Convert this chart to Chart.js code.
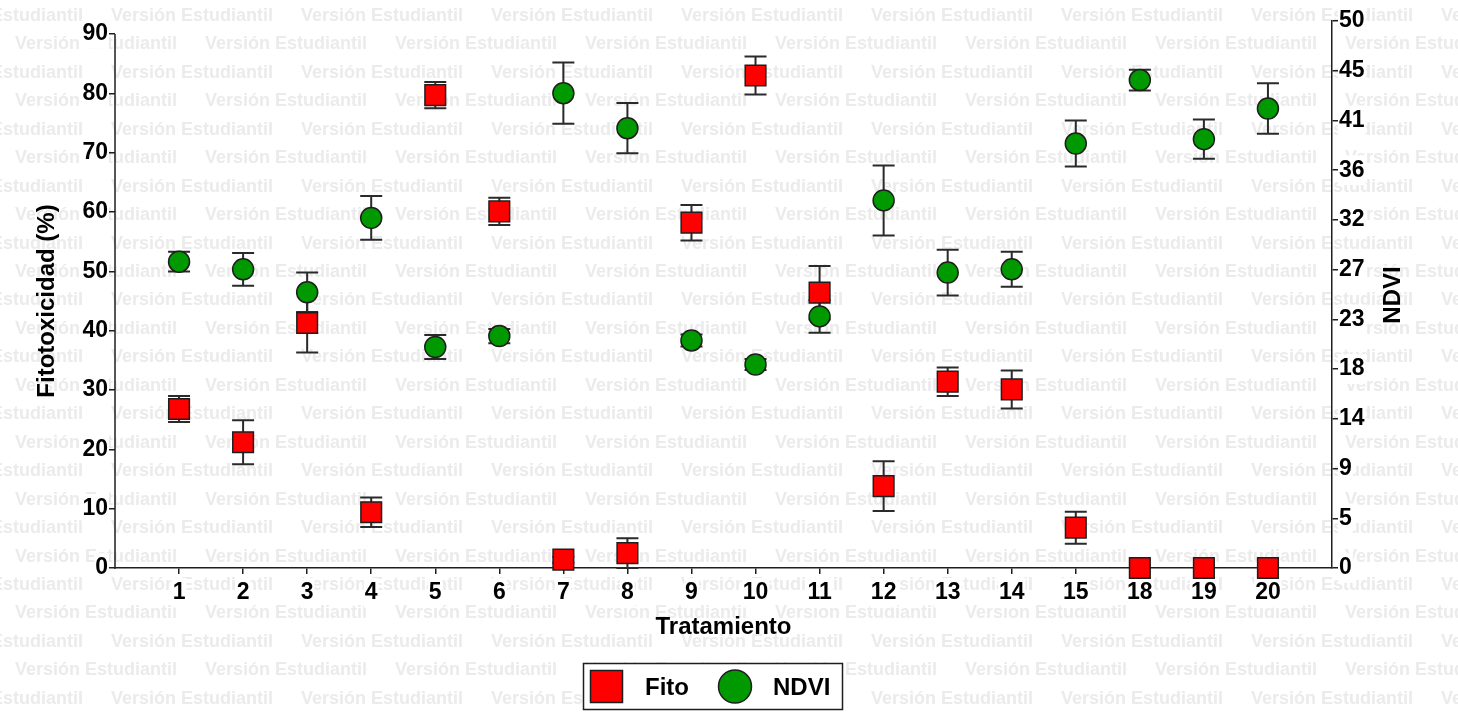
<!DOCTYPE html>
<html>
<head>
<meta charset="utf-8">
<script src="https://cdn.jsdelivr.net/npm/chart.js@4.4.1/dist/chart.umd.min.js"></script>
<style>
  html, body { margin: 0; padding: 0; background: #fff; }
  #wrap { width: 1458px; height: 712px; }
</style>
</head>
<body>
<div id="wrap"><canvas id="c" width="1458" height="712"></canvas></div>
<script>
// Treatments (x axis)
const categories = ['1','2','3','4','5','6','7','8','9','10','11','12','13','14','15','18','19','20'];

// Phytotoxicity (%) per treatment, with error
const fito    = [26.8, 21.2, 41.3, 9.4, 79.7, 60.1, 1.4, 2.5, 58.2, 83.0, 46.4, 13.8, 31.4, 30.1, 6.8, 0, 0, 0];
const fitoErr = [2.2, 3.7, 5.0, 2.5, 2.2, 2.3, 0.5, 2.5, 3.0, 3.2, 4.5, 4.2, 2.4, 3.2, 2.7, 0, 0, 0];

// NDVI per treatment, with error
const ndvi    = [28.0, 27.3, 25.2, 32.0, 20.2, 21.2, 43.4, 40.2, 20.8, 18.6, 23.0, 33.6, 27.0, 27.3, 38.8, 44.6, 39.2, 42.0];
const ndviErr = [0.9, 1.5, 1.8, 2.0, 1.1, 0.65, 2.8, 2.3, 0.55, 0.5, 1.5, 3.2, 2.1, 1.6, 2.1, 0.95, 1.8, 2.3];

// Axis ticks
const fitoTicks = [0, 10, 20, 30, 40, 50, 60, 70, 80, 90];
const ndviTickLabels = ['0','5','9','14','18','23','27','32','36','41','45','50'];

const FONT = '"Liberation Sans", Arial, sans-serif';
const INK = '#1e1e1e';
Chart.defaults.font.family = FONT;

const pts = arr => arr.map((v, i) => ({ x: i + 1, y: v }));

// Light repeated "Versión Estudiantil" stamp behind everything
const watermark = {
  id: 'watermark',
  beforeDraw(chart) {
    const ctx = chart.ctx;
    ctx.save();
    ctx.fillStyle = '#fff';
    ctx.fillRect(0, 0, chart.width, chart.height);
    ctx.font = 'bold 18px ' + FONT;
    ctx.fillStyle = '#ebebeb';
    ctx.textBaseline = 'middle';
    ctx.textAlign = 'left';
    for (let k = 0; k < 25; k++) {
      const y = 16 + 28.45 * k;
      const start = k % 2 === 0 ? -79 : 15;
      for (let x = start; x < chart.width; x += 190) ctx.fillText('Versión Estudiantil', x, y);
    }
    ctx.restore();
  }
};

// Vertical error bars with caps, drawn under the markers
const errorBars = {
  id: 'errorBars',
  beforeDatasetsDraw(chart) {
    const ctx = chart.ctx;
    const xs = chart.scales.x;
    const sets = [[fito, fitoErr, chart.scales.y], [ndvi, ndviErr, chart.scales.y2]];
    ctx.save();
    ctx.strokeStyle = '#2a2a2a';
    ctx.lineWidth = 2;
    sets.forEach(([vals, errs, ys]) => {
      vals.forEach((v, i) => {
        const e = errs[i];
        if (!e) return;
        const x = xs.getPixelForValue(i + 1);
        const t = ys.getPixelForValue(v + e);
        const b = ys.getPixelForValue(v - e);
        ctx.beginPath();
        ctx.moveTo(x, t); ctx.lineTo(x, b);
        ctx.moveTo(x - 11, t); ctx.lineTo(x + 11, t);
        ctx.moveTo(x - 11, b); ctx.lineTo(x + 11, b);
        ctx.stroke();
      });
    });
    ctx.restore();
  }
};

// Left axis line (0 to 90), axis titles and boxed legend
const decorations = {
  id: 'decorations',
  afterDraw(chart) {
    const ctx = chart.ctx;
    const ys = chart.scales.y;
    const ca = chart.chartArea;
    ctx.save();
    ctx.strokeStyle = INK;
    ctx.lineWidth = 1.5;
    ctx.beginPath();
    ctx.moveTo(ca.left, ys.getPixelForValue(0) + 0.75);
    ctx.lineTo(ca.left, ys.getPixelForValue(90));
    ctx.stroke();

    ctx.fillStyle = '#000';
    ctx.font = 'bold 24px ' + FONT;
    ctx.textAlign = 'center';
    ctx.textBaseline = 'middle';
    ctx.fillText('Tratamiento', (ca.left + ca.right) / 2, 627);

    ctx.save();
    ctx.translate(47, 301);
    ctx.rotate(-Math.PI / 2);
    ctx.fillText('Fitotoxicidad (%)', 0, 0);
    ctx.restore();

    ctx.save();
    ctx.translate(1393, 295);
    ctx.rotate(-Math.PI / 2);
    ctx.fillText('NDVI', 0, 0);
    ctx.restore();

    // legend
    const d0 = chart.data.datasets[0], d1 = chart.data.datasets[1];
    ctx.fillStyle = '#fff';
    ctx.fillRect(583, 663, 260, 47);
    ctx.strokeStyle = INK;
    ctx.lineWidth = 1.5;
    ctx.strokeRect(583.5, 663.5, 259, 46);

    ctx.fillStyle = d0.backgroundColor;
    ctx.fillRect(590, 670, 33, 33);
    ctx.strokeRect(590.5, 670.5, 32, 32);

    ctx.beginPath();
    ctx.arc(735, 686.5, 16.5, 0, Math.PI * 2);
    ctx.fillStyle = d1.backgroundColor;
    ctx.fill();
    ctx.stroke();

    ctx.fillStyle = '#000';
    ctx.textAlign = 'left';
    ctx.fillText(d0.label, 645, 688);
    ctx.fillText(d1.label, 773, 688);
    ctx.restore();
  }
};

const tickFont = { size: 23, weight: 'bold', family: FONT };
const gridOpts = { drawOnChartArea: false, drawTicks: true, tickLength: 6, color: INK, lineWidth: 1.5 };

new Chart(document.getElementById('c'), {
  type: 'scatter',
  data: {
    datasets: [
      {
        label: 'Fito',
        data: pts(fito),
        yAxisID: 'y',
        pointStyle: 'rect',
        pointRadius: 14.6,
        pointHoverRadius: 14.6,
        backgroundColor: '#ff0000',
        borderColor: INK,
        pointBorderWidth: 1.5,
        clip: false
      },
      {
        label: 'NDVI',
        data: pts(ndvi),
        yAxisID: 'y2',
        pointStyle: 'circle',
        pointRadius: 10.5,
        pointHoverRadius: 10.5,
        backgroundColor: '#009900',
        borderColor: INK,
        pointBorderWidth: 1.5,
        clip: false
      }
    ]
  },
  options: {
    responsive: false,
    animation: false,
    devicePixelRatio: 1,
    layout: { padding: { top: 21, left: 0, right: 0, bottom: 0 } },
    plugins: { legend: { display: false }, tooltip: { enabled: false } },
    scales: {
      x: {
        type: 'linear',
        position: 'bottom',
        min: 0,
        max: categories.length + 1,
        afterBuildTicks: s => { s.ticks = categories.map((c, i) => ({ value: i + 1 })); },
        afterFit: s => { s.height = 144; },
        ticks: {
          callback: v => categories[v - 1] ?? '',
          font: tickFont, color: '#000', padding: 5,
          autoSkip: false, maxRotation: 0, minRotation: 0,
          showLabelBackdrop: true, backdropColor: '#fff', backdropPadding: 1
        },
        grid: gridOpts,
        border: { display: true, color: INK, width: 1.5 }
      },
      y: {
        type: 'linear',
        position: 'left',
        min: 0,
        max: 92.19,
        afterBuildTicks: s => { s.ticks = fitoTicks.map(v => ({ value: v })); },
        afterFit: s => { s.width = 115; },
        ticks: {
          callback: v => String(v),
          font: tickFont, color: '#000', padding: 1,
          showLabelBackdrop: true, backdropColor: '#fff', backdropPadding: 1
        },
        grid: gridOpts,
        border: { display: false }
      },
      y2: {
        type: 'linear',
        position: 'right',
        min: 0,
        max: 50,
        afterBuildTicks: s => { s.ticks = ndviTickLabels.map((l, k) => ({ value: k * 50 / (ndviTickLabels.length - 1) })); },
        afterFit: s => { s.width = 126; },
        ticks: {
          callback: (v, i) => ndviTickLabels[i],
          font: tickFont, color: '#000', padding: 1,
          showLabelBackdrop: true, backdropColor: '#fff', backdropPadding: 1
        },
        grid: gridOpts,
        border: { display: true, color: INK, width: 1.5 }
      }
    }
  },
  plugins: [watermark, errorBars, decorations]
});
</script>
</body>
</html>
